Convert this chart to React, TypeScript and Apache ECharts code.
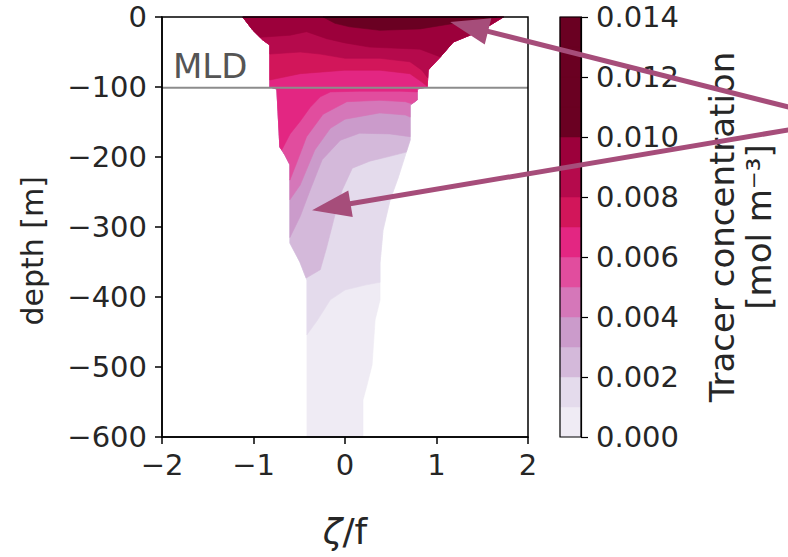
import React, { useEffect, useRef } from "react";
import * as echarts from "echarts";

// ---------- data ----------
const xTickValues = [-2, -1, 0, 1, 2];
const depthTickValues = [0, -100, -200, -300, -400, -500, -600];
const concentrationLevels = [
  0, 0.001, 0.002, 0.003, 0.004, 0.005, 0.006, 0.007, 0.008, 0.009, 0.01, 0.011, 0.012, 0.013, 0.014,
];
const bandColors = [
  "#efebf4", "#e4dbec", "#d4b9da", "#cb9bcb", "#d577b9", "#e14d9e", "#e32682",
  "#d2165a", "#b50a4c", "#9c003b", "#6a0022", "#6a0022", "#6a0022", "#6a0022",
];
const mldDepth = -101;

// edge of the tracer-filled domain (zeta/f, depth), surface to bottom
const maskLeftEdge: number[][] = [
  [-1.117, 0], [-1.008, -18.6], [-0.898, -32.9], [-0.821, -40], [-0.821, -100], [-0.745, -102.9],
  [-0.712, -185.7], [-0.657, -197], [-0.602, -211], [-0.602, -323], [-0.493, -350], [-0.416, -376], [-0.416, -600],
];
const maskRightEdge: number[][] = [
  [1.731, 0], [1.588, -11.4], [1.369, -25.7], [1.183, -35.7], [1.041, -57.1], [0.909, -75.7], [0.898, -100],
  [0.789, -102.9], [0.789, -118.6], [0.712, -125.7], [0.712, -175.7], [0.58, -230], [0.493, -261.4], [0.416, -304.3],
  [0.383, -351.4], [0.383, -404.3], [0.329, -432.9], [0.296, -497], [0.241, -525.7], [0.197, -547], [0.197, -600],
];

// contour lines: first point on left edge, last on right edge (or surface)
const contour001 = [[-0.42, -454], [-0.3, -433], [-0.16, -404], [0, -390], [0.22, -383], [0.38, -379]];
const contour002 = [[-0.43, -373], [-0.27, -361], [-0.2, -329], [-0.11, -283], [-0.03, -247], [0.08, -216], [0.27, -206], [0.49, -199], [0.67, -193]];
const contour003 = [[-0.6, -315], [-0.49, -285], [-0.38, -247], [-0.25, -204], [-0.05, -176], [0.16, -166], [0.49, -167], [0.71, -171]];
const contour004 = [[-0.6, -261], [-0.49, -240], [-0.33, -190], [-0.16, -159], [0, -146], [0.38, -137], [0.66, -140], [0.71, -143]];
const contour005 = [[-0.6, -233], [-0.53, -209], [-0.42, -171], [-0.24, -139], [0.02, -121], [0.38, -119], [0.66, -121], [0.74, -124]];
const contour006 = [[-0.7, -190], [-0.6, -167], [-0.49, -149], [-0.38, -129], [-0.27, -114], [-0.16, -107], [0.16, -106], [0.6, -106], [0.79, -107]];
const contour007 = [[-0.82, -90], [-0.49, -81], [0, -76], [0.38, -76], [0.71, -81], [0.84, -93], [0.9, -99]];
const contour008 = [[-0.82, -53], [-0.49, -50], [-0.27, -53], [0, -59], [0.38, -59], [0.71, -64], [0.84, -76], [0.9, -87]];
const contour009 = [[-0.93, -29], [-0.6, -26], [-0.42, -21], [-0.2, -31], [0, -37], [0.27, -43], [0.82, -46], [1.04, -57]];
const contour010 = [[-0.24, 0], [-0.11, -9], [0.05, -14], [0.38, -19], [0.82, -17], [1.15, -10], [1.48, -4], [1.66, 0]];

const arrowOne = [[4.86, -129], [1.15, -7]];
const arrowTwo = [[4.86, -161], [-0.36, -276]];
const mldLabelAnchor = [-1.88, -94];
const depthLabelAnchor = [-3.42, -334];

// ---------- helpers ----------
const minus = (s: string) => s.replace(/-/g, "\u2212");

function xAtDepth(edge: number[][], d: number): number {
  for (let i = 0; i < edge.length - 1; i++) {
    const a = edge[i], b = edge[i + 1];
    if (a[1] >= d && b[1] <= d) {
      if (a[1] === b[1]) return a[0];
      const t = (a[1] - d) / (a[1] - b[1]);
      return a[0] + t * (b[0] - a[0]);
    }
  }
  return edge[edge.length - 1][0];
}

function regionAbove(line: number[][]): number[][] {
  const pts: number[][] = [];
  const first = line[0], last = line[line.length - 1];
  if (first[1] < 0) {
    for (const p of maskLeftEdge) if (p[1] > first[1]) pts.push(p);
    pts.push([xAtDepth(maskLeftEdge, first[1]), first[1]]);
  } else pts.push(first);
  for (const p of line.slice(1, -1)) pts.push(p);
  if (last[1] < 0) {
    pts.push([xAtDepth(maskRightEdge, last[1]), last[1]]);
    for (const p of [...maskRightEdge].reverse()) if (p[1] > last[1]) pts.push(p);
  } else pts.push(last);
  return pts;
}

const regions: number[][][] = [
  [...maskLeftEdge, ...[...maskRightEdge].reverse()],
  regionAbove(contour001),
  regionAbove(contour002),
  regionAbove(contour003),
  regionAbove(contour004),
  regionAbove(contour005),
  regionAbove(contour006),
  regionAbove(contour007),
  regionAbove(contour008),
  regionAbove(contour009),
  regionAbove(contour010),
];

const FONT = "DejaVu Sans";
const TXT = "#262626";
const TICK_FS = 29;

export default function App() {
  const ref = useRef<HTMLDivElement>(null);
  useEffect(() => {
    if (!ref.current) return;
    const chart = echarts.init(ref.current, null, { renderer: "svg" });
    const axisLineStyle = { color: "#000", width: 1.5 };
    const option: any = {
      animation: false,
      backgroundColor: "#fff",
      textStyle: { fontFamily: FONT },
      grid: [
        { left: 162, top: 17, width: 366, height: 420, show: true, borderColor: "#000", borderWidth: 1.5, backgroundColor: "transparent", z: 10 },
        { left: 560, top: 17, width: 21, height: 420, show: true, borderColor: "#000", borderWidth: 1.2, backgroundColor: "transparent", z: 10 },
      ],
      xAxis: [
        {
          gridIndex: 0, type: "value", min: xTickValues[0], max: xTickValues[xTickValues.length - 1], interval: 1, z: 10,
          axisLine: { onZero: false, lineStyle: axisLineStyle },
          axisTick: { inside: false, length: 7, lineStyle: axisLineStyle },
          axisLabel: { fontSize: TICK_FS, color: TXT, margin: 13, fontFamily: FONT, formatter: (v: number) => minus(String(v)) },
          splitLine: { show: false },
          name: "{i|ζ}/f", nameLocation: "middle", nameGap: 76,
          nameTextStyle: {
            fontSize: 36, color: TXT, fontFamily: FONT,
            rich: { i: { fontSize: 36, color: TXT, fontFamily: FONT, fontStyle: "italic" } },
          },
        },
        { gridIndex: 1, type: "value", min: 0, max: 1, show: false },
      ],
      yAxis: [
        {
          gridIndex: 0, type: "value", min: depthTickValues[depthTickValues.length - 1], max: depthTickValues[0], interval: 100, z: 10,
          axisLine: { onZero: false, lineStyle: axisLineStyle },
          axisTick: { inside: false, length: 7, lineStyle: axisLineStyle },
          axisLabel: { fontSize: TICK_FS, color: TXT, margin: 15, fontFamily: FONT, formatter: (v: number) => minus(String(v)) },
          splitLine: { show: false },
        },
        {
          gridIndex: 1, type: "value", min: 0, max: concentrationLevels[concentrationLevels.length - 1], interval: 0.002,
          position: "right", z: 10,
          axisLine: { onZero: false, lineStyle: { color: "#000", width: 1.2 } },
          axisTick: { inside: false, length: 7, lineStyle: { color: "#000", width: 1.2 } },
          axisLabel: { fontSize: TICK_FS, color: TXT, margin: 15, fontFamily: FONT, formatter: (v: number) => v.toFixed(3) },
          splitLine: { show: false },
          name: "Tracer concentration\n[mol m⁻³]", nameLocation: "middle", nameGap: 122, nameRotate: 90,
          nameTextStyle: { fontSize: 34, color: TXT, fontFamily: FONT, lineHeight: 37, align: "center" },
        },
      ],
      series: [
        {
          type: "custom", xAxisIndex: 0, yAxisIndex: 0, silent: true, z: 2,
          data: regions.map((_, i) => [0, -300, i]),
          renderItem: (params: any, api: any) => {
            const idx = params.dataIndex;
            const color = bandColors[Math.min(idx, bandColors.length - 1)];
            return {
              type: "polygon",
              shape: { points: regions[idx].map((p) => api.coord(p)) },
              style: { fill: color, stroke: color, lineWidth: 0.6 },
            };
          },
        },
        {
          type: "line", xAxisIndex: 0, yAxisIndex: 0, silent: true, z: 5,
          symbol: "none",
          data: [[xTickValues[0], mldDepth], [xTickValues[xTickValues.length - 1], mldDepth]],
          lineStyle: { color: "#8c8c8c", width: 2 },
        },
        {
          type: "custom", xAxisIndex: 1, yAxisIndex: 1, silent: true, z: 2,
          data: concentrationLevels.slice(0, -1).map((lo, i) => [0.5, lo, concentrationLevels[i + 1]]),
          renderItem: (params: any, api: any) => {
            const lo = api.value(1), hi = api.value(2);
            const a = api.coord([0, hi]);
            const b = api.coord([1, lo]);
            const color = bandColors[params.dataIndex];
            return {
              type: "rect",
              shape: { x: a[0], y: a[1], width: b[0] - a[0], height: b[1] - a[1] },
              style: { fill: color, stroke: color, lineWidth: 0.5 },
            };
          },
        },
      ],
    };
    chart.setOption(option);

    const toPx = (p: number[]) => chart.convertToPixel({ gridIndex: 0 } as any, p) as number[];
    const arrowColor = "#a64d7a";
    const makeArrow = (pair: number[][]) => {
      const s = toPx(pair[0]);
      const t = toPx(pair[1]);
      const dx = t[0] - s[0], dy = t[1] - s[1];
      const len = Math.hypot(dx, dy);
      const ux = dx / len, uy = dy / len;
      const L = 39, W = 13.5;
      const bx = t[0] - ux * L, by = t[1] - uy * L;
      const nx = -uy, ny = ux;
      return [
        { type: "line", z: 100, silent: true, shape: { x1: s[0], y1: s[1], x2: bx + ux * 2, y2: by + uy * 2 }, style: { stroke: arrowColor, lineWidth: 5 } },
        { type: "polygon", z: 100, silent: true, shape: { points: [[t[0], t[1]], [bx + nx * W, by + ny * W], [bx - nx * W, by - ny * W]] }, style: { fill: arrowColor } },
      ];
    };
    const mldPos = toPx(mldLabelAnchor);
    const depthPos = toPx(depthLabelAnchor);
    chart.setOption({
      graphic: [
        {
          type: "text", z: 50, silent: true, x: mldPos[0], y: mldPos[1],
          style: { text: "MLD", fill: "#555555", fontSize: 34, fontFamily: FONT, align: "left", verticalAlign: "bottom" },
        },
        {
          type: "text", z: 50, silent: true, x: depthPos[0], y: depthPos[1], rotation: Math.PI / 2,
          style: { text: "depth [m]", fill: TXT, fontSize: 30, fontFamily: FONT, align: "center", verticalAlign: "middle" },
        },
        ...makeArrow(arrowOne),
        ...makeArrow(arrowTwo),
      ],
    });
    return () => chart.dispose();
  }, []);
  return (
    <div
      ref={ref}
      style={{ position: "fixed", left: 0, top: 0, width: 788, height: 557, background: "#fff" }}
    />
  );
}
